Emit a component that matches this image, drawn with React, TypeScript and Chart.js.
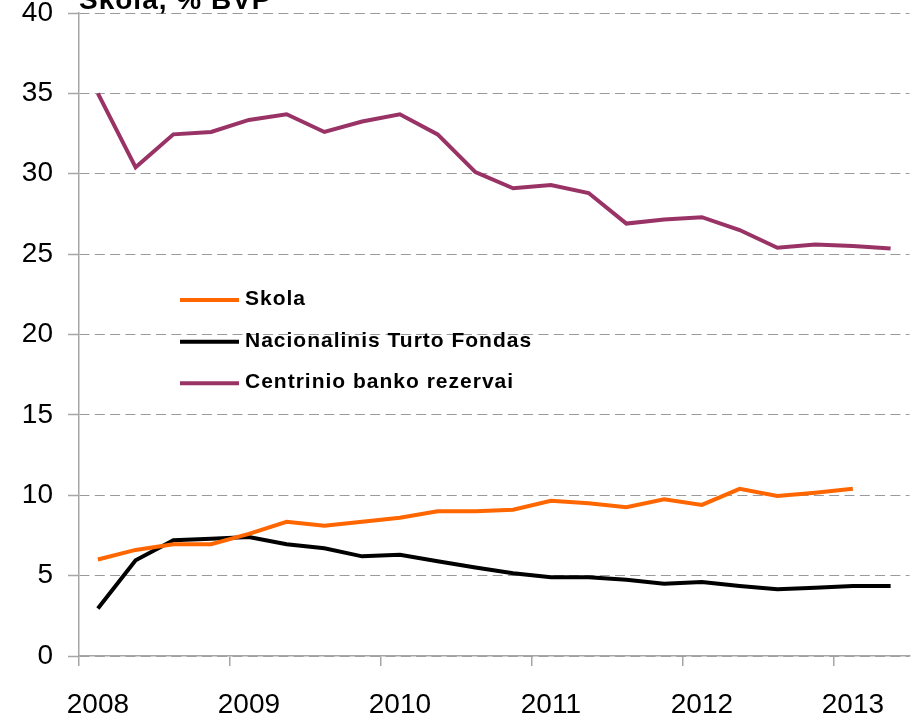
import React, { useEffect, useRef } from "react";
import { Chart, registerables } from "chart.js";

Chart.register(...registerables);

const quarters = [
  "2008 I", "2008 II", "2008 III", "2008 IV",
  "2009 I", "2009 II", "2009 III", "2009 IV",
  "2010 I", "2010 II", "2010 III", "2010 IV",
  "2011 I", "2011 II", "2011 III", "2011 IV",
  "2012 I", "2012 II", "2012 III", "2012 IV",
  "2013 I", "2013 II",
];

const tickLabels = [
  "2008", "", "", "",
  "2009", "", "", "",
  "2010", "", "", "",
  "2011", "", "", "",
  "2012", "", "", "",
  "2013", "",
];

const skola = [
  6.0, 6.6, 6.95, 6.95, 7.6, 8.35, 8.1, 8.35, 8.6, 9.0, 9.0,
  9.1, 9.65, 9.5, 9.25, 9.75, 9.4, 10.4, 9.95, 10.15, 10.4,
];

const ntf = [
  2.95, 5.95, 7.2, 7.3, 7.4, 6.95, 6.7, 6.2, 6.3, 5.9, 5.5,
  5.15, 4.9, 4.9, 4.75, 4.5, 4.6, 4.35, 4.15, 4.25, 4.35, 4.35,
];

const rezervai = [
  35.0, 30.4, 32.45, 32.6, 33.35, 33.7, 32.6, 33.25, 33.7, 32.45, 30.1,
  29.1, 29.3, 28.8, 26.9, 27.15, 27.3, 26.5, 25.4, 25.6, 25.5, 25.35,
];

const seriesNames = ["Skola", "Nacionalinis Turto Fondas", "Centrinio banko rezervai"];
const seriesColors = ["#FF6600", "#000000", "#993366"];
const titleText = "Skola, % BVP";

const FONT = '"Liberation Sans", Arial, sans-serif';
const AXIS = "#A6A6A6";
const GRID = "#9A9A9A";

const overlayPlugin = {
  id: "overlay",
  afterDraw(chart: any) {
    const ctx = chart.ctx as CanvasRenderingContext2D;
    ctx.save();
    // title (cut at the top, as in the reference)
    ctx.fillStyle = "#000";
    ctx.font = `bold 28px ${FONT}`;
    (ctx as any).letterSpacing = "1px";
    ctx.textAlign = "left";
    ctx.textBaseline = "alphabetic";
    ctx.fillText(titleText, 79, 9);

    // legend inside the plot area
    const rowsText = [299, 340.8, 382.5];
    const rowsLine = [300, 341.7, 383.3];
    ctx.font = `bold 21px ${FONT}`;
    (ctx as any).letterSpacing = "1px";
    ctx.textBaseline = "middle";
    for (let i = 0; i < seriesNames.length; i++) {
      ctx.strokeStyle = seriesColors[i];
      ctx.lineWidth = 4;
      ctx.lineCap = "butt";
      ctx.beginPath();
      ctx.moveTo(180, rowsLine[i]);
      ctx.lineTo(239, rowsLine[i]);
      ctx.stroke();
      ctx.fillStyle = "#000";
      ctx.fillText(seriesNames[i], 245, rowsText[i]);
    }
    ctx.restore();
  },
};

export default function App() {
  const ref = useRef<HTMLCanvasElement>(null);

  useEffect(() => {
    document.body.style.margin = "0";
    const canvas = ref.current!;
    const data = [skola, ntf, rezervai];
    const chart = new Chart(canvas, {
      type: "line",
      data: {
        labels: quarters,
        datasets: seriesNames.map((name, i) => ({
          label: name,
          data: data[i],
          borderColor: seriesColors[i],
          backgroundColor: seriesColors[i],
          borderWidth: 4,
          pointRadius: 0,
          tension: 0,
          fill: false,
        })),
      },
      options: {
        responsive: false,
        animation: false,
        layout: { padding: { top: 13, right: 3.5, left: 0, bottom: 0 } },
        plugins: {
          legend: { display: false },
          tooltip: { enabled: false },
          title: { display: false },
        },
        scales: {
          x: {
            type: "category",
            offset: true,
            grid: {
              offset: true,
              drawOnChartArea: false,
              drawTicks: true,
              tickLength: 10,
              lineWidth: 1.5,
              color: (c: any) => (c.index % 4 === 0 ? AXIS : "rgba(0,0,0,0)"),
            },
            border: { color: AXIS, width: 1.5 },
            ticks: {
              autoSkip: false,
              maxRotation: 0,
              minRotation: 0,
              padding: 22,
              color: "#000",
              font: { family: FONT, size: 28 },
              callback: (_v: any, i: number) => tickLabels[i],
            },
            afterFit: (s: any) => {
              s.height = 64;
              s.paddingLeft = 0;
              s.paddingRight = 0;
            },
          },
          y: {
            min: 0,
            max: 40,
            ticks: {
              stepSize: 5,
              padding: 15,
              color: "#000",
              font: { family: FONT, size: 28, lineHeight: 0.9 },
            },
            grid: {
              color: GRID,
              lineWidth: 1,
              tickLength: 11,
              tickColor: AXIS,
              tickWidth: 1.5,
            },
            border: { color: AXIS, width: 1.5, dash: [10, 5.3] },
            afterFit: (s: any) => {
              s.width = 79;
              s.paddingTop = 0;
              s.paddingBottom = 0;
            },
          },
        },
      },
      plugins: [overlayPlugin],
    });
    return () => chart.destroy();
  }, []);

  return (
    <div style={{ width: 913, height: 720 }}>
      <canvas ref={ref} width={913} height={720} style={{ display: "block" }} />
    </div>
  );
}
